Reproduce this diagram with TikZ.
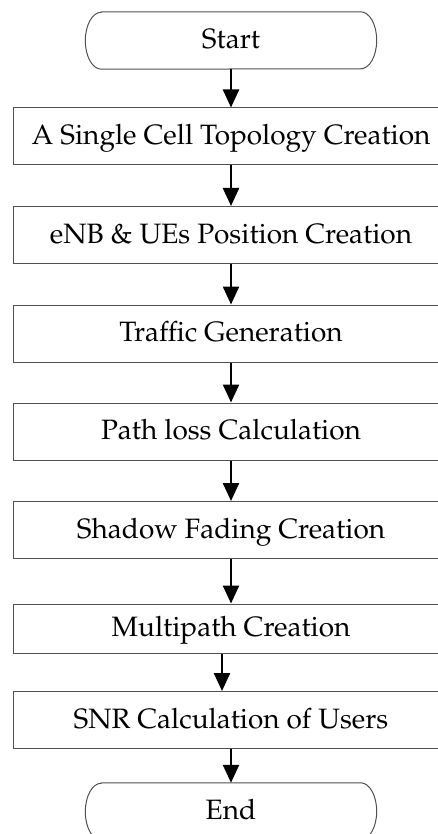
\documentclass[tikz,border=0pt]{standalone}
\usepackage[T1]{fontenc}
\usepackage{mathpazo}
\usetikzlibrary{arrows.meta}
\definecolor{boxgray}{HTML}{505050}
\newcommand\flowfont{\fontsize{28}{34}\selectfont}
% outline of a terminal (start/end) node: straight top and bottom, elliptical ends
\newcommand\termoutline[1]{%
  \draw[draw=boxgray, line width=1pt]
    ([xshift=16pt]#1.north west) -- ([xshift=-16pt]#1.north east)
    arc[start angle=90, end angle=-90, x radius=16pt, y radius=28.5pt]
    -- ([xshift=16pt]#1.south west)
    arc[start angle=270, end angle=90, x radius=16pt, y radius=28.5pt] -- cycle;}
\begin{document}
\begin{tikzpicture}[x=1pt, y=-1pt,
  stepbox/.style={draw=boxgray, line width=1pt, minimum width=436pt,
    minimum height=57pt, inner sep=0pt, text height=16pt, text depth=0pt,
    font=\flowfont},
  term/.style={minimum width=291pt, minimum height=57pt, inner sep=0pt,
    text height=16pt, text depth=0pt, font=\flowfont},
  flow/.style={line width=2.4pt, -{Triangle[length=18pt, width=16pt]}}]
\useasboundingbox (0,0) rectangle (437,834);

\node[term] (start) at (231,40.5) {Start};
\termoutline{start}
\node[stepbox] (topo) at (231,136.5) {A Single Cell Topology Creation};
\node[stepbox] (pos) at (231,235) {eNB \& UEs Position Creation};
\node[stepbox] (traffic) at (231,333.5) {Traffic Generation};
\node[stepbox] (pathloss) at (231,431.5) {Path loss Calculation};
\node[stepbox] (shadow) at (231,530) {Shadow Fading Creation};
\node[stepbox, minimum height=49pt] (multi) at (231,628.5) {Multipath Creation};
\node[stepbox] (snr) at (231,720) {SNR Calculation of Users};
\node[term] (end) at (231,811.5) {End};
\termoutline{end}

\draw[flow] (start.south) -- (topo.north);
\draw[flow] (topo.south) -- (pos.north);
\draw[flow] (pos.south) -- (traffic.north);
\draw[flow] (traffic.south) -- (pathloss.north);
\draw[flow] (pathloss.south) -- (shadow.north);
\draw[flow] (shadow.south) -- (multi.north);
\draw[flow] ([xshift=-9pt]multi.south) -- ([xshift=-9pt]snr.north);
\draw[flow] (snr.south) -- (end.north);
\end{tikzpicture}
\end{document}
